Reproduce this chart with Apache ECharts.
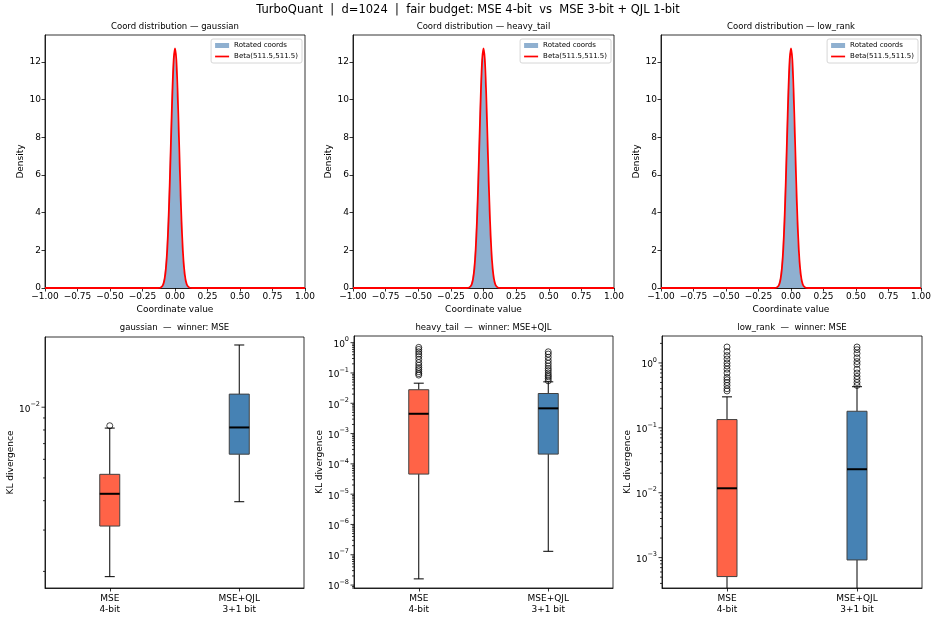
<!DOCTYPE html>
<html><head><meta charset="utf-8">
<script src="https://cdn.jsdelivr.net/npm/echarts@6/dist/echarts.min.js"></script>
<style>html,body{margin:0;padding:0;background:#fff}#chart{width:936px;height:642px}</style>
</head><body><div id="chart"></div>
<script>
// ---------------- data ----------------
const suptitle = 'TurboQuant  |  d=1024  |  fair budget: MSE 4-bit  vs  MSE 3-bit + QJL 1-bit';
const distNames = ['gaussian', 'heavy_tail', 'low_rank'];
const winners = ['MSE', 'MSE+QJL', 'MSE'];
const methods = ['MSE\n4-bit', 'MSE+QJL\n3+1 bit'];
const legendNames = ['Rotated coords', 'Beta(511.5,511.5)'];

// histogram of rotated coordinates (bin centers, density), bin width 0.01
const histCenters = [-0.13,-0.12,-0.11,-0.10,-0.09,-0.08,-0.07,-0.06,-0.05,-0.04,-0.03,-0.02,-0.01,0.00,
  0.01,0.02,0.03,0.04,0.05,0.06,0.07,0.08,0.09,0.10,0.11,0.12,0.13];
const histDensity = [0,0.01,0.03,0.08,0.21,0.5,1.05,2.05,3.6,5.6,8.0,10.3,12.0,12.6,
  12.0,10.3,8.0,5.6,3.6,2.05,1.05,0.5,0.21,0.08,0.03,0.01,0];

// Beta(511.5,511.5) reference density mapped to [-1,1]
const betaX = [-1.00,-0.15,-0.12,-0.11,-0.10,-0.09,-0.08,-0.07,-0.06,-0.05,-0.04,-0.03,-0.02,-0.01,0.00,
  0.01,0.02,0.03,0.04,0.05,0.06,0.07,0.08,0.09,0.10,0.11,0.12,0.15,1.00];
const betaY = [0,0,0.01,0.03,0.08,0.2,0.48,1.04,2.02,3.55,5.63,8.06,10.41,12.13,12.72,
  12.13,10.41,8.06,5.63,3.55,2.02,1.04,0.48,0.2,0.08,0.03,0.01,0,0];

const xTicksTop = [-1.00,-0.75,-0.50,-0.25,0.00,0.25,0.50,0.75,1.00];

// KL divergence box stats: [whisker low, Q1, median, Q3, whisker high]
const gaussianMSE = [0.00190, 0.00312, 0.00428, 0.00518, 0.00815];
const gaussianQJL = [0.00396, 0.00631, 0.00820, 0.01137, 0.0184];
const heavyMSE = [1.6e-8, 4.6e-5, 0.0045, 0.028, 0.046];
const heavyQJL = [1.3e-7, 2.1e-4, 0.0068, 0.021, 0.051];
const lowrankMSE = [1e-5, 5.1e-4, 0.0117, 0.134, 0.30];
const lowrankQJL = [1e-5, 9.2e-4, 0.023, 0.18, 0.43];

// outliers
const gaussianMSEOut = [0.00834];
const gaussianQJLOut = [];
const heavyMSEOut = [0.085,0.095,0.11,0.13,0.15,0.18,0.22,0.28,0.35,0.42,0.5,0.6,0.7];
const heavyQJLOut = [0.055,0.065,0.075,0.085,0.1,0.12,0.14,0.17,0.21,0.26,0.33,0.42,0.5];
const lowrankMSEOut = [0.37,0.40,0.45,0.5,0.55,0.6,0.7,0.8,0.9,1.0,1.15,1.3,1.5,1.76];
const lowrankQJLOut = [0.45,0.5,0.56,0.62,0.7,0.8,0.95,1.05,1.2,1.4,1.6,1.76];

// y-axis ranges of the KL panels
const klMin = [0.0017, 8e-9, 3.4e-4];
const klMax = [0.0199, 1.66, 2.6];

// ---------------- layout / style ----------------
const FONT = 'DejaVu Sans';
const boxColors = ['#ff6347', '#4682b4'];
const topGrids = [[45,35,260,253],[353,35,261,253],[661,35,260,253]];
const botGrids = [[45,337,259,251],[354,336,259,252],[662,336,260,252]];
const legendRight = [634, 325, 18];

const boxSets = [[gaussianMSE, gaussianQJL],[heavyMSE, heavyQJL],[lowrankMSE, lowrankQJL]];
const outSets = [[gaussianMSEOut, gaussianQJLOut],[heavyMSEOut, heavyQJLOut],[lowrankMSEOut, lowrankQJLOut]];

function logTicks(lo, hi) {
  const out = [];
  for (let e = Math.floor(Math.log10(lo)); e <= Math.ceil(Math.log10(hi)); e++) {
    for (let k = 1; k <= 9; k++) {
      const v = k * Math.pow(10, e);
      if (v >= lo * 0.9999 && v <= hi * 1.0001) out.push([0, v, k === 1 ? 1 : 0]);
    }
  }
  return out;
}
function fmtTop(v) { return (v < 0 ? '\u2212' : '') + Math.abs(v).toFixed(2); }
function logLabel(v) {
  const l = Math.log10(v); const e = Math.round(l);
  if (Math.abs(l - e) > 1e-6) return '';
  return '{b|10}{s|' + (e < 0 ? '\u2212' : '') + Math.abs(e) + '}';
}
const axisLineStyle = {color: '#000', width: 0.8};
const labelStyle = {fontSize: 9, color: '#000', fontFamily: FONT};

const option = {
  animation: false,
  backgroundColor: '#fff',
  textStyle: {fontFamily: FONT},
  title: [], legend: [], grid: [], xAxis: [], yAxis: [], series: []
};

option.title.push({text: suptitle, left: 468, top: 4, textAlign: 'center', padding: 0,
  textStyle: {fontSize: 11.5, fontWeight: 'normal', color: '#000', fontFamily: FONT}});

for (let i = 0; i < 3; i++) {
  const g = topGrids[i];
  option.grid.push({left: g[0], top: g[1], width: g[2], height: g[3], show: true, borderColor: '#000', borderWidth: 0.8, backgroundColor: 'transparent'});
  option.title.push({text: 'Coord distribution \u2014 ' + distNames[i], left: g[0] + g[2] / 2, top: 22, textAlign: 'center', padding: 0,
    textStyle: {fontSize: 8.5, fontWeight: 'normal', color: '#000', fontFamily: FONT}});
  option.xAxis.push({gridIndex: i, type: 'value', min: xTicksTop[0], max: xTicksTop[xTicksTop.length - 1], interval: 0.25,
    axisLine: {show: true, onZero: false, lineStyle: axisLineStyle},
    axisTick: {show: true, length: 3.5, lineStyle: axisLineStyle},
    axisLabel: Object.assign({margin: 4, formatter: fmtTop}, labelStyle),
    splitLine: {show: false},
    name: 'Coordinate value', nameLocation: 'middle', nameGap: 17, nameTextStyle: labelStyle});
  option.yAxis.push({gridIndex: i, type: 'value', min: 0, max: 13.43, interval: 2,
    axisLine: {show: true, onZero: false, lineStyle: axisLineStyle},
    axisTick: {show: true, length: 3.5, lineStyle: axisLineStyle},
    axisLabel: Object.assign({margin: 4, showMaxLabel: false}, labelStyle),
    splitLine: {show: false},
    name: 'Density', nameLocation: 'middle', nameGap: 19, nameTextStyle: labelStyle});
  option.series.push({type: 'line', name: legendNames[0], xAxisIndex: i, yAxisIndex: i,
    data: histCenters.map((c, j) => [c, histDensity[j]]), step: 'middle', symbol: 'none', showSymbol: false,
    lineStyle: {width: 0}, areaStyle: {color: '#8fb0d0', opacity: 1}, itemStyle: {color: '#8fb0d0'}, z: 2, silent: true});
  option.series.push({type: 'line', name: legendNames[1], xAxisIndex: i, yAxisIndex: i,
    data: betaX.map((x, j) => [x, betaY[j]]), smooth: 0.3, symbol: 'none', showSymbol: false,
    lineStyle: {color: '#ff0000', width: 1.8}, itemStyle: {color: '#ff0000'}, z: 3, silent: true});
  option.legend.push({right: legendRight[i], top: 39, orient: 'vertical', selectedMode: false,
    symbolKeepAspect: true,
    data: [{name: legendNames[0], icon: 'rect'}, {name: legendNames[1], icon: 'path://M0,0L14,0L14,1.7L0,1.7Z'}],
    itemWidth: 14, itemHeight: 5, itemGap: 4,
    textStyle: {fontSize: 7, color: '#000', fontFamily: FONT},
    borderColor: '#cccccc', borderWidth: 0.8, borderRadius: 2, padding: [3, 4, 3, 4], backgroundColor: '#fff'});
}

for (let i = 0; i < 3; i++) {
  const gi = 3 + i;
  const g = botGrids[i];
  option.grid.push({left: g[0], top: g[1], width: g[2], height: g[3], show: true, borderColor: '#000', borderWidth: 0.8, backgroundColor: 'transparent'});
  option.title.push({text: distNames[i] + '  \u2014  winner: ' + winners[i], left: g[0] + g[2] / 2, top: 323, textAlign: 'center', padding: 0,
    textStyle: {fontSize: 8.5, fontWeight: 'normal', color: '#000', fontFamily: FONT}});
  option.xAxis.push({gridIndex: gi, type: 'category', data: methods, boundaryGap: true,
    axisLine: {show: true, onZero: false, lineStyle: axisLineStyle},
    axisTick: {show: true, alignWithLabel: true, length: 3.5, lineStyle: axisLineStyle},
    axisLabel: Object.assign({margin: 5, lineHeight: 11}, labelStyle),
    splitLine: {show: false}});
  option.yAxis.push({gridIndex: gi, type: 'log', logBase: 10, min: klMin[i], max: klMax[i],
    axisLine: {show: true, onZero: false, lineStyle: axisLineStyle},
    axisTick: {show: false},
    axisLabel: Object.assign({margin: 5, formatter: logLabel, showMinLabel: true, showMaxLabel: true,
      rich: {b: {fontSize: 9, color: '#000', fontFamily: FONT, lineHeight: 13, verticalAlign: 'bottom'},
             s: {fontSize: 6.5, color: '#000', fontFamily: FONT, lineHeight: 6, verticalAlign: 'top'}}}, labelStyle),
    splitLine: {show: false}, minorSplitLine: {show: false},
    name: 'KL divergence', nameLocation: 'middle', nameGap: 30, nameTextStyle: labelStyle});
  // boxes
  const sets = boxSets[i];
  option.series.push({type: 'custom', xAxisIndex: gi, yAxisIndex: gi, clip: true, z: 3, silent: true,
    encode: {x: 0, y: [1, 2, 3, 4, 5]},
    data: sets.map((s, j) => [j].concat(s)),
    renderItem: function (params, api) {
      const idx = api.value(0);
      const lo = api.coord([idx, api.value(1)]);
      const q1 = api.coord([idx, api.value(2)]);
      const md = api.coord([idx, api.value(3)]);
      const q3 = api.coord([idx, api.value(4)]);
      const hi = api.coord([idx, api.value(5)]);
      const cx = q1[0], hw = 10, cw = 5;
      const ln = {stroke: '#000', lineWidth: 1};
      return {type: 'group', children: [
        {type: 'line', shape: {x1: cx, y1: q1[1], x2: cx, y2: lo[1]}, style: ln},
        {type: 'line', shape: {x1: cx, y1: q3[1], x2: cx, y2: hi[1]}, style: ln},
        {type: 'line', shape: {x1: cx - cw, y1: lo[1], x2: cx + cw, y2: lo[1]}, style: ln},
        {type: 'line', shape: {x1: cx - cw, y1: hi[1], x2: cx + cw, y2: hi[1]}, style: ln},
        {type: 'rect', shape: {x: cx - hw, y: q3[1], width: 2 * hw, height: q1[1] - q3[1]},
          style: {fill: boxColors[idx], stroke: '#404040', lineWidth: 1}},
        {type: 'line', shape: {x1: cx - hw, y1: md[1], x2: cx + hw, y2: md[1]}, style: {stroke: '#000', lineWidth: 2}}
      ]};
    }});
  // outliers
  const outs = outSets[i];
  const outData = [];
  outs.forEach((arr, j) => arr.forEach(v => outData.push([j, v])));
  option.series.push({type: 'scatter', xAxisIndex: gi, yAxisIndex: gi, data: outData, symbol: 'circle', symbolSize: 6,
    itemStyle: {color: 'rgba(0,0,0,0)', borderColor: '#000', borderWidth: 0.9}, z: 4, silent: true});
  // log ticks (major + minor)
  option.series.push({type: 'custom', xAxisIndex: gi, yAxisIndex: gi, clip: false, z: 5, silent: true,
    encode: {x: 0, y: 1},
    data: logTicks(klMin[i], klMax[i]),
    renderItem: function (params, api) {
      const cs = params.coordSys;
      const y = api.coord([0, api.value(1)])[1];
      const len = api.value(2) ? 3.5 : 2;
      return {type: 'line', shape: {x1: cs.x - len, y1: y, x2: cs.x, y2: y}, style: {stroke: '#000', lineWidth: 0.8}};
    }});
}

const chart = echarts.init(document.getElementById('chart'));
chart.setOption(option);
</script></body></html>
